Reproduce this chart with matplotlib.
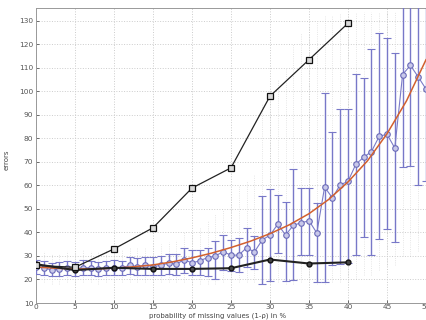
import matplotlib
matplotlib.use("Agg")
import matplotlib.pyplot as plt
import numpy as np

# --- data ------------------------------------------------------------------
x_all = list(range(0, 51))
mean_err = [25.5, 25, 24, 24.5, 25, 24.5, 25, 25, 24.5, 25,
            25, 25, 26, 25.5, 26, 25.5, 26, 27, 26.5, 28.5,
            27, 28, 29.3, 30, 31.9, 30.3, 30.4, 33.5, 31.7, 36.8,
            38.9, 43.5, 38.9, 43.1, 44.1, 45.0, 39.8, 59.3, 54.7, 60.3,
            61.7, 69.0, 72.0, 74.4, 80.9, 81.8, 75.9, 107.2, 111.1, 106.2,
            101]
low_err = [22.5, 22, 21.5, 21.5, 22, 21.5, 22, 22, 21.5, 22,
           22, 22, 22.5, 22, 22, 22, 22, 22.5, 22, 22.7,
           21.7, 22, 21.5, 20, 24, 23.7, 23.1, 25.5, 24.4, 18.2,
           19.2, 31.1, 19.5, 19.9, 30.4, 30.4, 18.9, 18.9, 26.2, 26.5,
           27, 30.4, 38.2, 30.4, 37.2, 41.3, 36.1, 68, 68.2, 60,
           62]
high_err = [28.5, 28, 27, 27.5, 28, 27.5, 28.5, 28, 27.5, 28,
            28.5, 28, 29.5, 29, 29.5, 29.5, 30, 30.7, 31, 33.5,
            32.5, 32.5, 33.5, 36.3, 38.9, 36.8, 37.8, 41.7, 38.6, 55.4,
            58.3, 56.1, 53, 66.8, 58.9, 58.9, 52.6, 99.5, 82.6, 92.5,
            92.5, 107.6, 105.8, 118.2, 124.8, 122.7, 116.3, 160, 160, 160,
            160]

# faint raw samples (range of the dotted columns)
sample_lo = [19, 19, 18, 18, 19, 18, 19, 19, 18, 19,
             19, 19, 19, 19, 19, 19, 19, 19, 19, 19,
             18, 18, 18, 18, 19, 19, 19, 19, 19, 18,
             18, 19, 18, 18, 19, 19, 18, 18, 19, 19,
             19, 20, 22, 22, 24, 26, 26, 30, 30, 32,
             32]
sample_hi = [32, 32, 31, 31, 32, 32, 33, 32, 32, 33,
             33, 33, 34, 34, 34, 35, 35, 36, 37, 40,
             40, 42, 45, 48, 50, 55, 60, 62, 65, 95,
             100, 105, 110, 120, 125, 128, 130, 132, 132, 133,
             133, 134, 134, 134, 134, 134, 134, 134, 134, 134,
             134]

fit_x = [0, 2.5, 5, 7.5, 10, 12.5, 15, 17.5, 20, 22.5, 25,
         27.5, 30, 32.5, 35, 37.5, 40, 42.5, 45, 47.5, 50]
fit_y = [25.3, 24.8, 24.5, 24.5, 24.8, 25.4, 26.2, 27.5, 29.2, 31.2, 33.6,
         36.3, 39.5, 43.3, 48.0, 54.0, 61.5, 70.5, 82.0, 96.0, 113.5]

x5 = [0, 5, 10, 15, 20, 25, 30, 35, 40]
square_err = [26, 25.2, 33, 42, 58.9, 67.5, 98, 113.5, 129]
circle_err = [26.5, 24, 25, 24.5, 24.5, 24.8, 28.5, 26.8, 27.3]

# --- figure ----------------------------------------------------------------
fig = plt.figure(figsize=(4.27, 3.2), dpi=100)
ax = fig.add_axes([36 / 427, 17 / 320, 390 / 427, 295 / 320])

ax.vlines(x_all, sample_lo, sample_hi, colors='#dedede', linestyles=':', lw=0.6, zorder=1)

yerr = [np.array(mean_err) - np.array(low_err), np.array(high_err) - np.array(mean_err)]
ax.errorbar(x_all, mean_err, yerr=yerr, color='#7b7bc8', ecolor='#7878c8', elinewidth=1.0,
            capsize=3.2, capthick=1.0, lw=0.8, marker='o', ms=4, mfc='#c8c8ea', mec='#6a6ab8',
            mew=0.8, zorder=3)

ax.plot(fit_x, fit_y, color='#d2602e', lw=1.1, zorder=4)

ax.plot(x5, circle_err, color='#222222', lw=1.5, marker='o', ms=3.5, mfc='#444444', mec='#111111', zorder=5)
ax.plot(x5, square_err, color='#222222', lw=0.9, marker='s', ms=4.5, mfc='#d8d8d8', mec='#111111',
        mew=0.9, zorder=5)

ax.set_xlim(0, 50)
ax.set_ylim(10, 135.5)
ax.set_xticks(range(0, 51, 5))
ax.set_yticks(range(10, 131, 10))
ax.grid(True, color='#cccccc', linestyle=':', lw=0.7)
ax.tick_params(labelsize=5.3, colors='#555555', length=2.5, width=0.6, direction='in', pad=1)
ax.tick_params(axis='y', pad=2)
for s in ax.spines.values():
    s.set_color('#999999')
    s.set_linewidth(0.7)

fig.text(7 / 427, 0.5, 'errors', rotation=90, fontsize=5, color='#444444', ha='center', va='center')
fig.text(218 / 427, 1 / 320, 'probability of missing values (1-ρ) in %', fontsize=5, color='#444444',
         ha='center', va='bottom')

fig.savefig('out.png', dpi=100)
